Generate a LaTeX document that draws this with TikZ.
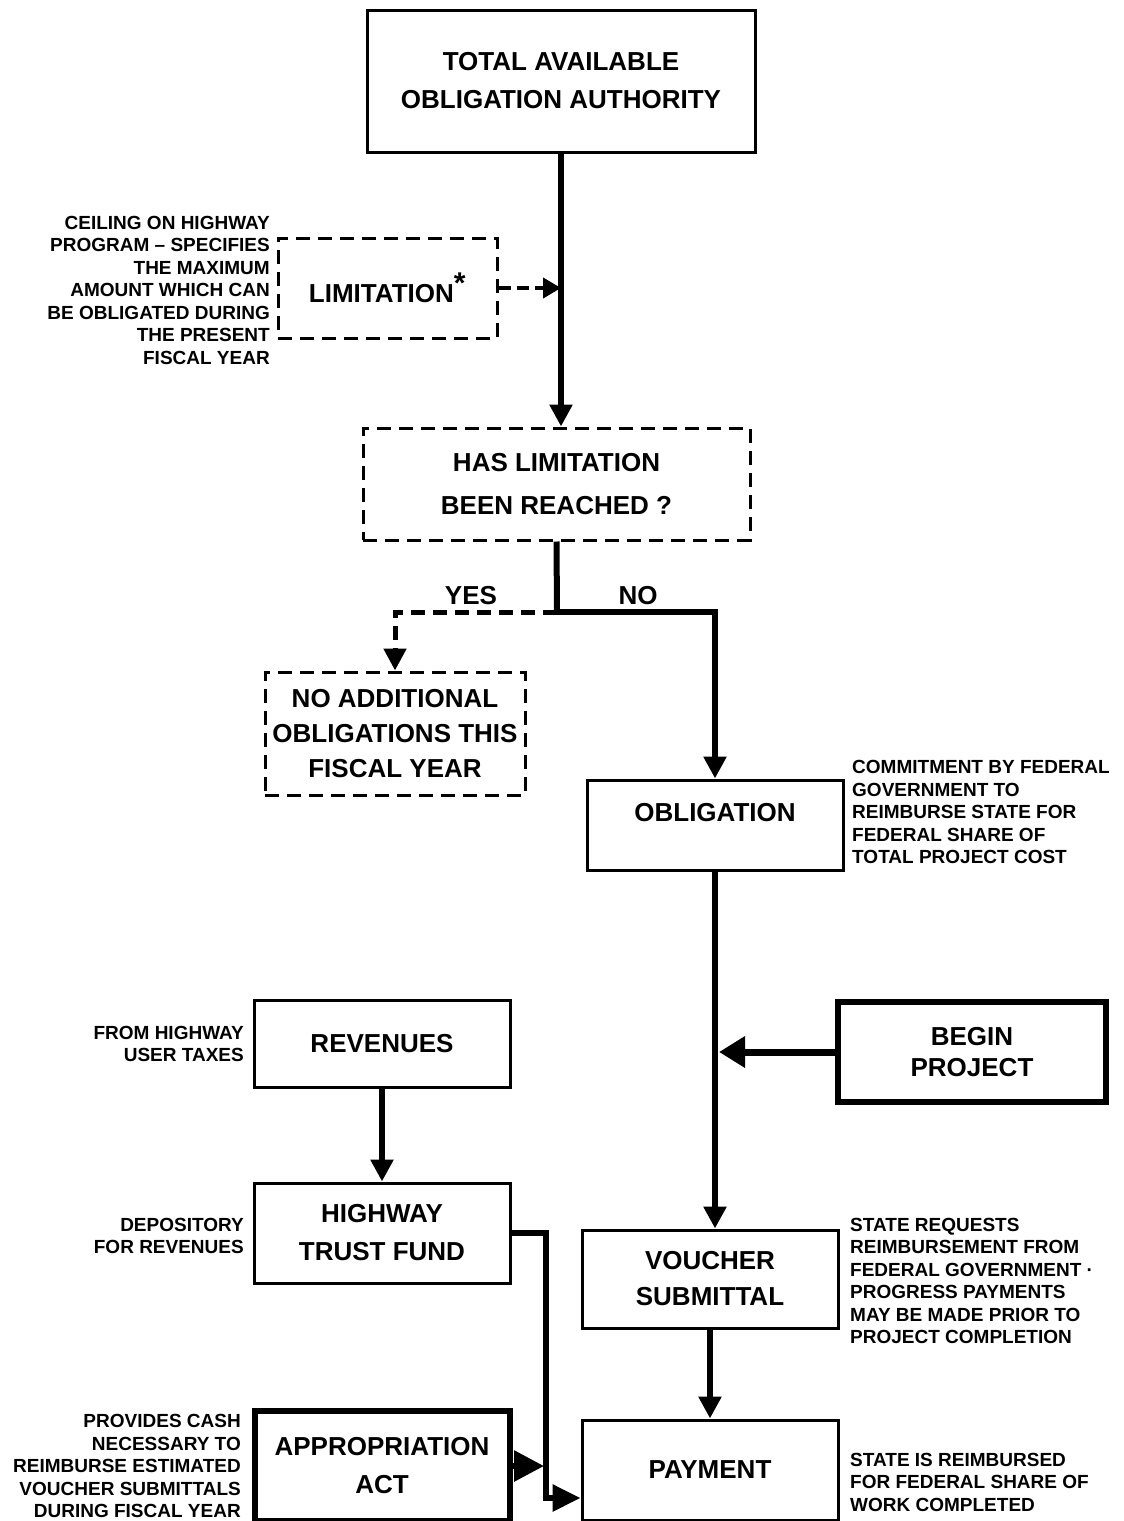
\documentclass[tikz,border=0pt]{standalone}
\usepackage{fontspec}
\setmainfont{Liberation Sans}
\usetikzlibrary{arrows.meta,calc}
\tikzset{
  box/.style={draw=black, line width=3pt, minimum width=#1, inner sep=0pt, align=center,
              font=\bfseries\fontsize{26}{38}\selectfont},
  box/.default=256pt,
  dbox/.style={box=#1, dash pattern=on 14pt off 8pt},
  dbox/.default=256pt,
  tbox/.style={box=#1, line width=6pt},
  tbox/.default=256pt,
  conn/.style={line width=6pt, -{Triangle[length=22pt,width=22pt]}},
  dconn/.style={line width=5pt, dash pattern=on 14pt off 8pt, -{Triangle[length=22pt,width=22pt]}},
  note/.style={inner sep=0pt, font=\bfseries\fontsize{19}{22.5}\selectfont},
  lbl/.style={inner sep=0pt, font=\bfseries\fontsize{26}{30}\selectfont}
}
\begin{document}
\begin{tikzpicture}[x=1pt,y=-1pt]
\useasboundingbox (0,0) rectangle (1124,1521);

% boxes
\node[box=388pt, minimum height=142pt] (top) at (561,81) {TOTAL AVAILABLE\\OBLIGATION AUTHORITY};
\node[dbox=219pt, minimum height=100pt] (lim) at (387.5,288) {LIMITATION\textsuperscript{\fontsize{30}{30}\selectfont *}};
\node[dbox=387pt, minimum height=112pt, font=\bfseries\fontsize{26}{43}\selectfont] (q) at (556.5,484) {HAS LIMITATION\\BEEN REACHED ?};
\node[dbox=260pt, minimum height=123pt, font=\bfseries\fontsize{26}{35}\selectfont] (noadd) at (395,733.5) {NO ADDITIONAL\\OBLIGATIONS THIS\\FISCAL YEAR};
\node[box=256pt, minimum height=90pt, label={[lbl, yshift=12pt]center:OBLIGATION}] (obl) at (715,825) {};
\node[tbox=268pt, minimum height=100pt, font=\bfseries\fontsize{26}{31}\selectfont] (begin) at (972,1052) {BEGIN\\PROJECT};
\node[box=256pt, minimum height=87pt] (rev) at (382,1043.5) {REVENUES};
\node[box=256pt, minimum height=100pt] (htf) at (382,1233) {HIGHWAY\\TRUST FUND};
\node[box=256pt, minimum height=98pt, font=\bfseries\fontsize{26}{36}\selectfont] (vou) at (710,1279) {VOUCHER\\SUBMITTAL};
\node[box=256pt, minimum height=100pt] (pay) at (710,1470) {PAYMENT};
\node[tbox=255pt, minimum height=110pt] (app) at (382,1466) {APPROPRIATION\\ACT};

% annotations
\node[note, anchor=east, align=right] (nlim) at (270,290) {CEILING ON HIGHWAY\\PROGRAM – SPECIFIES\\THE MAXIMUM\\AMOUNT WHICH CAN\\BE OBLIGATED DURING\\THE PRESENT\\FISCAL YEAR};
\node[note, anchor=west, align=left] (nobl) at (852,812) {COMMITMENT BY FEDERAL\\GOVERNMENT TO\\REIMBURSE STATE FOR\\FEDERAL SHARE OF\\TOTAL PROJECT COST};
\node[note, anchor=east, align=right] (nrev) at (244,1044) {FROM HIGHWAY\\USER TAXES};
\node[note, anchor=east, align=right] (nhtf) at (244,1236) {DEPOSITORY\\FOR REVENUES};
\node[note, anchor=west, align=left] (nvou) at (850,1281) {STATE REQUESTS\\REIMBURSEMENT FROM\\FEDERAL GOVERNMENT ·\\PROGRESS PAYMENTS\\MAY BE MADE PRIOR TO\\PROJECT COMPLETION};
\node[note, anchor=west, align=left] (npay) at (850,1482) {STATE IS REIMBURSED\\FOR FEDERAL SHARE OF\\WORK COMPLETED};
\node[note, anchor=east, align=right] (napp) at (241,1466) {PROVIDES CASH\\NECESSARY TO\\REIMBURSE ESTIMATED\\VOUCHER SUBMITTALS\\DURING FISCAL YEAR};

% labels
\node[lbl] (yes) at (471,596) {YES};
\node[lbl] (no) at (638,596) {NO};

% coordinates
\coordinate (split) at (557,612);
\coordinate (j1) at (547,1233);
\coordinate (payin) at ($(pay.west)+(0,28)$);

% connectors
\draw[conn] (top.south) -- (top.south |- q.north);
\draw[dconn, line width=4pt, dash pattern=on 12pt off 6pt, -{Triangle[length=18pt,width=20pt]}] (lim.east) -- (lim.east -| top.south);
\draw[line width=6pt] (q.south) -- (split);
\draw[dconn] (split) -| (noadd.north);
\draw[conn] (split) -| (obl.north);
\draw[conn] (obl.south) -- (obl.south |- vou.north);
\draw[line width=7pt, -{Triangle[length=26pt,width=30pt]}] (begin.west) -- ($(begin.west -| obl.south)+(4,0)$);
\draw[conn] (rev.south) -- (htf.north);
\draw[conn] (vou.south) -- (pay.north);
\draw[line width=6pt, -{Triangle[length=28pt,width=26pt]}] (htf.east) -| ($(payin)-(35,0)$) -- (payin);
\draw[line width=6pt, -{Triangle[length=30pt,width=30pt]}] (app.east) -- ($(app.east -| j1)-(3,0)$);
\end{tikzpicture}
\end{document}
